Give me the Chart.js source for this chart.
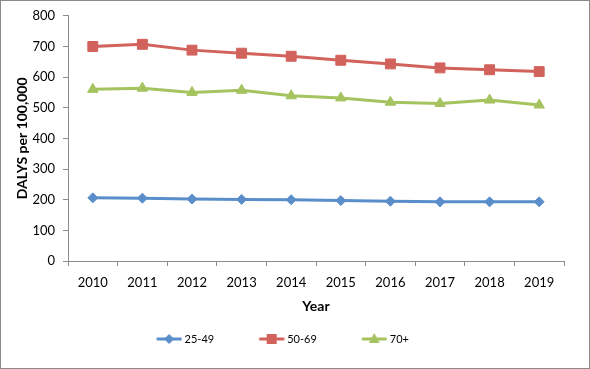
<!DOCTYPE html>
<html>
<head>
<meta charset="utf-8">
<script src="https://cdn.jsdelivr.net/npm/chart.js@4"></script>
<style>
  body { margin: 0; background: #fff; }
  #wrap { width: 590px; height: 369px; }
</style>
</head>
<body>
<div id="wrap"><canvas id="myChart" width="590" height="369"></canvas></div>
<script>
const years = ['2010', '2011', '2012', '2013', '2014', '2015', '2016', '2017', '2018', '2019'];
const age25to49 = [206, 205, 202, 201, 200, 197, 195, 193, 193, 193];
const age50to69 = [700, 707, 688, 678, 668, 655, 643, 630, 624, 618];
const age70plus = [560, 564, 550, 557, 539, 532, 518, 514, 525, 509];
const seriesNames = ['25-49', '50-69', '70+'];

const blue = '#5A8ECB';
const red = '#D2625C';
const green = '#A5C35E';
const axisGrey = '#8C8C8C';

// legend sample: a short line with the marker in its middle
function legendIcon(color, shape) {
  const c = document.createElement('canvas');
  c.width = 30;
  c.height = 14;
  const g = c.getContext('2d');
  const x0 = 4.5, x1 = 29.5, cx = 17, cy = 7;
  g.strokeStyle = color;
  g.lineWidth = 3;
  g.beginPath();
  g.moveTo(x0, cy);
  g.lineTo(x1, cy);
  g.stroke();
  g.fillStyle = color;
  g.beginPath();
  if (shape === 'diamond') {
    g.moveTo(cx, cy - 5); g.lineTo(cx + 5, cy); g.lineTo(cx, cy + 5); g.lineTo(cx - 5, cy);
  } else if (shape === 'square') {
    g.rect(cx - 5, cy - 5, 10, 10);
  } else {
    g.moveTo(cx, cy - 6); g.lineTo(cx + 5.5, cy + 4); g.lineTo(cx - 5.5, cy + 4);
  }
  g.closePath();
  g.fill();
  return c;
}
const icons = [legendIcon(blue, 'diamond'), legendIcon(red, 'square'), legendIcon(green, 'triangle')];

const frame = {
  id: 'frame',
  afterDraw(chart) {
    const c = chart.ctx;
    c.save();
    c.strokeStyle = '#8A8A8A';
    c.lineWidth = 1;
    c.strokeRect(0.5, 0.5, chart.width - 1, chart.height - 1);
    c.restore();
  }
};

const ctx = document.getElementById('myChart');

const myChart = new Chart(ctx, {
  type: 'line',
  data: {
    labels: years,
    datasets: [{
      label: seriesNames[0],
      data: age25to49,
      borderColor: blue,
      backgroundColor: blue,
      borderWidth: 3,
      pointStyle: 'rectRot',
      pointRadius: 5,
      pointBorderWidth: 1
    }, {
      label: seriesNames[1],
      data: age50to69,
      borderColor: red,
      backgroundColor: red,
      borderWidth: 3,
      pointStyle: 'rect',
      pointRadius: 7,
      pointBorderWidth: 1
    }, {
      label: seriesNames[2],
      data: age70plus,
      borderColor: green,
      backgroundColor: green,
      borderWidth: 3,
      pointStyle: 'triangle',
      pointRadius: 6,
      pointBorderWidth: 1
    }]
  },
  options: {
    responsive: false,
    animation: false,
    layout: { padding: { top: 13, right: 26, left: 0, bottom: 19 } },
    plugins: {
      tooltip: { enabled: false },
      legend: {
        position: 'bottom',
        maxHeight: 60,
        labels: {
          usePointStyle: true,
          pointStyleWidth: 24,
          padding: 43.5,
          color: '#000',
          font: { family: 'Lato', size: 11 },
          generateLabels(chart) {
            return chart.data.datasets.map((ds, i) => ({
              text: ds.label,
              pointStyle: icons[i],
              fillStyle: ds.borderColor,
              strokeStyle: ds.borderColor,
              lineWidth: 0,
              fontColor: '#000',
              hidden: false,
              datasetIndex: i
            }));
          }
        }
      }
    },
    scales: {
      x: {
        offset: true,
        afterFit(scale) { scale.height = 29; },
        border: { color: axisGrey, width: 1 },
        grid: { drawOnChartArea: false, drawTicks: true, tickLength: 5, color: axisGrey, offset: true },
        ticks: { color: '#000', padding: 9, font: { family: 'Lato', size: 13 } },
        title: {
          display: true,
          text: 'Year',
          color: '#000',
          font: { family: 'Lato', size: 14, weight: 'bold' },
          padding: { top: 0, bottom: -24.5 }
        }
      },
      y: {
        min: 0,
        max: 800,
        afterFit(scale) { scale.width = 68; },
        border: { color: axisGrey, width: 1 },
        grid: { drawOnChartArea: false, drawTicks: true, tickLength: 5, color: axisGrey },
        ticks: { stepSize: 100, color: '#000', padding: 8, font: { family: 'Lato', size: 13 } },
        title: {
          display: true,
          text: 'DALYS per 100,000',
          color: '#000',
          font: { family: 'Lato', size: 14, weight: 'bold' },
          padding: { top: 14, bottom: 0 }
        }
      }
    }
  },
  plugins: [frame]
});
</script>
</body>
</html>
